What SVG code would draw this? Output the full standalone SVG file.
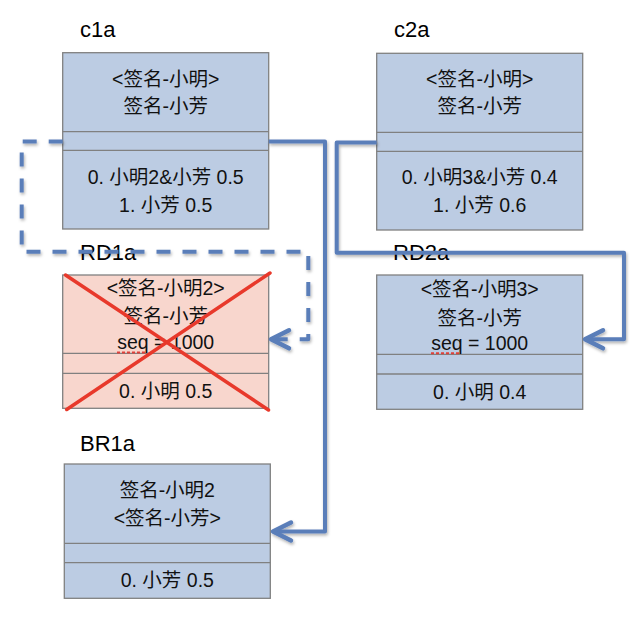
<svg xmlns="http://www.w3.org/2000/svg" width="642" height="618" viewBox="0 0 642 618">
<defs>
<style>
.box{fill:#BCCCE3;stroke:#808080;stroke-width:1.3}
.pink{fill:#F8D6CD;stroke:#808080;stroke-width:1.3}
.div{stroke:#808080;stroke-width:1.3;fill:none}
.t{font-family:"Liberation Sans","Noto Sans CJK SC",sans-serif;font-size:19.5px;fill:#111;text-anchor:middle}
.lbl{font-family:"Liberation Sans","Noto Sans CJK SC",sans-serif;font-size:22px;fill:#000}
.conn{fill:none;stroke:#5A7EB9;stroke-width:4;stroke-linejoin:round}
.dash{stroke-dasharray:14 12}
.sq{stroke:#E0403A;stroke-width:2;stroke-dasharray:3 2;fill:none}
.x{stroke:#E8392B;stroke-width:3.5;stroke-linecap:round}
</style>
<filter id="sh" x="-10%" y="-10%" width="120%" height="120%">
<feDropShadow dx="1" dy="2" stdDeviation="1.5" flood-color="#000" flood-opacity="0.3"/>
</filter>
<marker id="arr" markerUnits="userSpaceOnUse" markerWidth="30" markerHeight="30" refX="21" refY="12" orient="auto" viewBox="0 0 30 24" overflow="visible">
<polyline points="3,3 21,12 3,21" fill="none" stroke="#5A7EB9" stroke-width="4.5" stroke-linecap="round" stroke-linejoin="round" stroke-dasharray="none"/>
</marker>
</defs>
<rect width="642" height="618" fill="#fff"/>

<g id="c1a">
<text class="lbl" x="80" y="37">c1a</text>
<rect class="box" x="62.7" y="52.7" width="206" height="176.3"/>
<line class="div" x1="62.7" y1="131.7" x2="268.7" y2="131.7"/>
<line class="div" x1="62.7" y1="150.3" x2="268.7" y2="150.3"/>
<text class="t" x="165.7" y="85.5">&lt;签名-小明&gt;</text>
<text class="t" x="165.7" y="112.5">签名-小芳</text>
<text class="t" x="165.7" y="184">0. 小明2&amp;小芳 0.5</text>
<text class="t" x="165.7" y="211.5">1. 小芳 0.5</text>
</g>

<g id="c2a">
<text class="lbl" x="394" y="37">c2a</text>
<rect class="box" x="376.7" y="53.3" width="206" height="176.7"/>
<line class="div" x1="376.7" y1="132.3" x2="582.7" y2="132.3"/>
<line class="div" x1="376.7" y1="151.3" x2="582.7" y2="151.3"/>
<text class="t" x="479.7" y="85.5">&lt;签名-小明&gt;</text>
<text class="t" x="479.7" y="112.5">签名-小芳</text>
<text class="t" x="479.7" y="184">0. 小明3&amp;小芳 0.4</text>
<text class="t" x="479.7" y="211.5">1. 小芳 0.6</text>
</g>

<g id="RD1a">
<text class="lbl" x="80" y="259.5">RD1a</text>
<rect class="pink" x="62.7" y="275" width="206" height="133.3"/>
<line class="div" x1="62.7" y1="353.3" x2="268.7" y2="353.3"/>
<line class="div" x1="62.7" y1="373.3" x2="268.7" y2="373.3"/>
<text class="t" x="165.7" y="295">&lt;签名-小明2&gt;</text>
<text class="t" x="165.7" y="323">签名-小芳</text>
<text class="t" x="165.7" y="349.3">seq = 1000</text>
<line class="sq" x1="117" y1="352.5" x2="145" y2="352.5"/>
<text class="t" x="165.7" y="397.7">0. 小明 0.5</text>
<line class="x" x1="65.5" y1="275" x2="268.5" y2="410"/>
<line class="x" x1="66.7" y1="409.5" x2="270" y2="273"/>
</g>

<g id="RD2a">
<text class="lbl" x="393" y="260">RD2a</text>
<rect class="box" x="376.7" y="275" width="206" height="134.3"/>
<line class="div" x1="376.7" y1="354.3" x2="582.7" y2="354.3"/>
<line class="div" x1="376.7" y1="374" x2="582.7" y2="374"/>
<text class="t" x="479.7" y="296">&lt;签名-小明3&gt;</text>
<text class="t" x="479.7" y="324.5">签名-小芳</text>
<text class="t" x="479.7" y="350">seq = 1000</text>
<line class="sq" x1="431" y1="353.3" x2="460" y2="353.3"/>
<text class="t" x="479.7" y="398.5">0. 小明 0.4</text>
</g>

<g id="BR1a">
<text class="lbl" x="80" y="451">BR1a</text>
<rect class="box" x="64.3" y="464" width="206" height="134.3"/>
<line class="div" x1="64.3" y1="543.3" x2="270.3" y2="543.3"/>
<line class="div" x1="64.3" y1="562.7" x2="270.3" y2="562.7"/>
<text class="t" x="167.3" y="497">签名-小明2</text>
<text class="t" x="167.3" y="525">&lt;签名-小芳&gt;</text>
<text class="t" x="167.3" y="586.7">0. 小芳 0.5</text>
</g>

<g id="connectors" filter="url(#sh)">
<path class="conn" d="M268.7,141.5 H325 V531.5 H273" marker-end="url(#arr)"/>
<path class="conn" d="M376.7,142.5 H336.7 V252.7 H624 V339.3 H585" marker-end="url(#arr)"/>
<path class="conn dash" d="M62.7,141.5 H21.7 V251.7 H308.3 V339.3 H271" marker-end="url(#arr)"/>
</g>
</svg>
